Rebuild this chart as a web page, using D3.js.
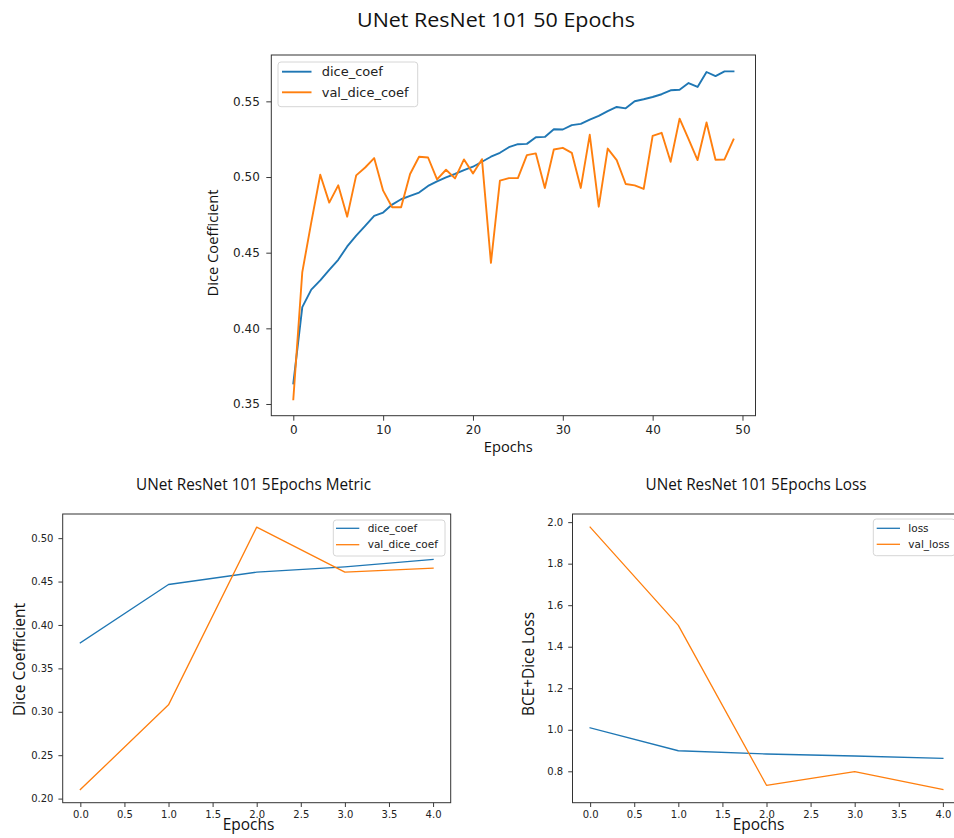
<!DOCTYPE html>
<html>
<head>
<meta charset="utf-8">
<script src="https://cdn.jsdelivr.net/npm/d3@7"></script>
<style>
  html, body { margin: 0; padding: 0; background: #fff; }
  svg { display: block; }
</style>
</head>
<body>
<svg id="chart" width="954" height="838"></svg>
<script>
// ---------------- DATA ----------------
const epochs50 = [0,1,2,3,4,5,6,7,8,9,10,11,12,13,14,15,16,17,18,19,20,21,22,23,24,25,26,27,28,29,30,31,32,33,34,35,36,37,38,39,40,41,42,43,44,45,46,47,48,49];
const diceCoef50 = [0.3636,0.4140,0.4256,0.4317,0.4387,0.4453,0.4541,0.4613,0.4677,0.4743,
                    0.4765,0.4818,0.4853,0.4875,0.4897,0.4941,0.4971,0.4998,0.5020,0.5046,
                    0.5068,0.5101,0.5134,0.5160,0.5197,0.5217,0.5219,0.5263,0.5265,0.5316,
                    0.5314,0.5343,0.5351,0.5379,0.5404,0.5435,0.5463,0.5454,0.5501,0.5514,
                    0.5529,0.5547,0.5573,0.5577,0.5621,0.5595,0.5694,0.5667,0.5698,0.5698];
const valDiceCoef50 = [0.3531,0.4372,0.4700,0.5015,0.4831,0.4945,0.4738,0.5011,0.5063,0.5125,
                       0.4910,0.4800,0.4800,0.5020,0.5134,0.5129,0.4984,0.5048,0.4991,0.5116,
                       0.5024,0.5118,0.4433,0.4976,0.4993,0.4993,0.5145,0.5156,0.4928,0.5182,
                       0.5193,0.5160,0.4928,0.5279,0.4804,0.5188,0.5112,0.4954,0.4945,0.4921,
                       0.5272,0.5292,0.5101,0.5386,0.5250,0.5112,0.5360,0.5114,0.5116,0.5248];

const epochs5 = [0,1,2,3,4];
const diceCoef5 = [0.3794,0.4466,0.4608,0.4670,0.4754];
const valDiceCoef5 = [0.2104,0.3080,0.5127,0.4608,0.4654];
const loss5 = [1.0096,0.8990,0.8833,0.8737,0.8625];
const valLoss5 = [1.9760,1.5030,0.7327,0.7984,0.7120];

const topXTicks = [0,10,20,30,40,50];
const topYTicks = [0.35,0.40,0.45,0.50,0.55];
const smallXTicks = [0.0,0.5,1.0,1.5,2.0,2.5,3.0,3.5,4.0];
const metricYTicks = [0.20,0.25,0.30,0.35,0.40,0.45,0.50];
const lossYTicks = [0.8,1.0,1.2,1.4,1.6,1.8,2.0];

const titles = ["UNet ResNet 101 50 Epochs", "UNet ResNet 101 5Epochs Metric", "UNet ResNet 101 5Epochs Loss"];
const yLabels = ["Dice Coefficient", "Dice Coefficient", "BCE+Dice Loss"];
const xLabel = "Epochs";
const legendTop = ["dice_coef", "val_dice_coef"];
const legendMetric = ["dice_coef", "val_dice_coef"];
const legendLoss = ["loss", "val_loss"];

// ---------------- STYLE ----------------
const BLUE = "#1f77b4", ORANGE = "#ff7f0e";
const LABEL_FONT = "'Open Sans', 'Noto Sans', sans-serif";
const TICK_FONT = "'DejaVu Sans', sans-serif";

const svg = d3.select("#chart");
svg.append("rect").attr("width", 954).attr("height", 838).attr("fill", "#fff");

function padExtent(arrs) {
  const all = [].concat(...arrs);
  const [a, b] = d3.extent(all);
  const m = (b - a) * 0.05;
  return [a - m, b + m];
}

function drawPanel(cfg) {
  const x = d3.scaleLinear().domain(padExtent([cfg.xs])).range([cfg.x0, cfg.x1]);
  const y = d3.scaleLinear().domain(padExtent(cfg.series.map(s => s.values))).range([cfg.y1, cfg.y0]);

  const g = svg.append("g");

  // lines
  const clipId = "clip" + cfg.id;
  g.append("clipPath").attr("id", clipId).append("rect")
    .attr("x", cfg.x0).attr("y", cfg.y0).attr("width", cfg.x1 - cfg.x0).attr("height", cfg.y1 - cfg.y0);

  cfg.series.forEach(s => {
    const line = d3.line().x((d, i) => x(cfg.xs[i])).y(d => y(d));
    g.append("path").datum(s.values)
      .attr("clip-path", `url(#${clipId})`)
      .attr("fill", "none").attr("stroke", s.color)
      .attr("stroke-width", cfg.lw).attr("stroke-linejoin", "round").attr("stroke-linecap", "square")
      .attr("d", line);
  });

  // axes
  const xAxis = d3.axisBottom(x).tickValues(cfg.xTicks).tickSize(cfg.tickLen).tickPadding(cfg.xPad)
    .tickFormat(cfg.xFmt);
  const yAxis = d3.axisLeft(y).tickValues(cfg.yTicks).tickSize(cfg.tickLen).tickPadding(cfg.yPad)
    .tickFormat(cfg.yFmt);

  const gx = g.append("g").attr("transform", `translate(0,${cfg.y1})`).call(xAxis);
  const gy = g.append("g").attr("transform", `translate(${cfg.x0},0)`).call(yAxis);
  [gx, gy].forEach(a => {
    a.select(".domain").remove();
    a.selectAll(".tick line").attr("stroke", "#222").attr("stroke-width", 0.9);
    a.selectAll(".tick text").attr("fill", "#222").attr("font-family", TICK_FONT).attr("font-size", cfg.tickFs);
  });

  // frame
  g.append("rect").attr("x", cfg.x0).attr("y", cfg.y0)
    .attr("width", cfg.x1 - cfg.x0).attr("height", cfg.y1 - cfg.y0)
    .attr("fill", "none").attr("stroke", "#333").attr("stroke-width", 1);

  // title
  g.append("text").attr("x", cfg.title.x).attr("y", cfg.title.y)
    .attr("text-anchor", "middle").attr("font-family", LABEL_FONT).attr("font-size", cfg.title.fs)
    .attr("fill", "#111").attr("textLength", cfg.title.w).attr("lengthAdjust", "spacingAndGlyphs")
    .text(cfg.title.text);

  // x label
  g.append("text").attr("x", cfg.xl.x).attr("y", cfg.xl.y)
    .attr("text-anchor", "middle").attr("font-family", LABEL_FONT).attr("font-size", cfg.xl.fs)
    .attr("fill", "#111").attr("textLength", cfg.xl.w).attr("lengthAdjust", "spacingAndGlyphs")
    .text(xLabel);

  // y label
  g.append("text").attr("transform", `translate(${cfg.yl.x},${cfg.yl.y}) rotate(-90)`)
    .attr("text-anchor", "middle").attr("font-family", LABEL_FONT).attr("font-size", cfg.yl.fs)
    .attr("fill", "#111").attr("textLength", cfg.yl.w).attr("lengthAdjust", "spacingAndGlyphs")
    .text(cfg.yl.text);

  // legend
  const L = cfg.legend;
  const lg = g.append("g");
  lg.append("rect").attr("x", L.x0).attr("y", L.y0).attr("width", L.x1 - L.x0).attr("height", L.y1 - L.y0)
    .attr("rx", 3).attr("fill", "#fff").attr("fill-opacity", 0.85).attr("stroke", "#d6d6d6").attr("stroke-width", 1);
  cfg.series.forEach((s, i) => {
    const ry = L.rows[i];
    lg.append("line").attr("x1", L.lx0).attr("x2", L.lx1).attr("y1", ry).attr("y2", ry)
      .attr("stroke", s.color).attr("stroke-width", cfg.lw);
    lg.append("text").attr("x", L.tx).attr("y", ry).attr("dy", "0.35em")
      .attr("font-family", TICK_FONT).attr("font-size", L.fs).attr("fill", "#222")
      .text(s.name);
  });
}

const fmt2 = d3.format(".2f"), fmt1 = d3.format(".1f"), fmt0 = d3.format("d");

// Top chart
drawPanel({
  id: "top", xs: epochs50,
  series: [{name: legendTop[0], values: diceCoef50, color: BLUE}, {name: legendTop[1], values: valDiceCoef50, color: ORANGE}],
  x0: 271.3, x1: 755.5, y0: 55, y1: 415.7, lw: 1.9,
  xTicks: topXTicks, yTicks: topYTicks, xFmt: fmt0, yFmt: fmt2,
  tickLen: 5, xPad: 5, yPad: 6.5, tickFs: 12,
  title: {text: titles[0], x: 496, y: 27.3, fs: 20.5, w: 278},
  xl: {x: 508.3, y: 451.5, fs: 15, w: 49},
  yl: {text: yLabels[0], x: 218, y: 243, fs: 15, w: 107},
  legend: {x0: 278, x1: 417.7, y0: 62, y1: 106.7, rows: [71.7, 92.3], lx0: 282, lx1: 311.5, tx: 321.7, fs: 13}
});

// Bottom-left
drawPanel({
  id: "bl", xs: epochs5,
  series: [{name: legendMetric[0], values: diceCoef5, color: BLUE}, {name: legendMetric[1], values: valDiceCoef5, color: ORANGE}],
  x0: 62.7, x1: 450.7, y0: 514, y1: 802.7, lw: 1.3,
  xTicks: smallXTicks, yTicks: metricYTicks, xFmt: fmt1, yFmt: fmt2,
  tickLen: 4.3, xPad: 3.7, yPad: 5, tickFs: 10,
  title: {text: titles[1], x: 253.5, y: 490, fs: 16, w: 235},
  xl: {x: 248.5, y: 830, fs: 16, w: 51.6},
  yl: {text: yLabels[1], x: 25, y: 659.5, fs: 16, w: 113},
  legend: {x0: 333.3, x1: 445, y0: 520, y1: 556, rows: [528.3, 544.7], lx0: 336, lx1: 359.3, tx: 367.7, fs: 10.5}
});

// Bottom-right
drawPanel({
  id: "br", xs: epochs5,
  series: [{name: legendLoss[0], values: loss5, color: BLUE}, {name: legendLoss[1], values: valLoss5, color: ORANGE}],
  x0: 572.5, x1: 960.5, y0: 514, y1: 802.7, lw: 1.3,
  xTicks: smallXTicks, yTicks: lossYTicks, xFmt: fmt1, yFmt: fmt1,
  tickLen: 4.3, xPad: 3.7, yPad: 5, tickFs: 10,
  title: {text: titles[2], x: 756, y: 490, fs: 16, w: 221},
  xl: {x: 758.5, y: 830, fs: 16, w: 51.6},
  yl: {text: yLabels[2], x: 534, y: 664, fs: 16, w: 104},
  legend: {x0: 873.3, x1: 955, y0: 519, y1: 555.7, rows: [528.3, 544.3], lx0: 876.7, lx1: 900, tx: 908.3, fs: 10.5}
});
</script>
</body>
</html>
